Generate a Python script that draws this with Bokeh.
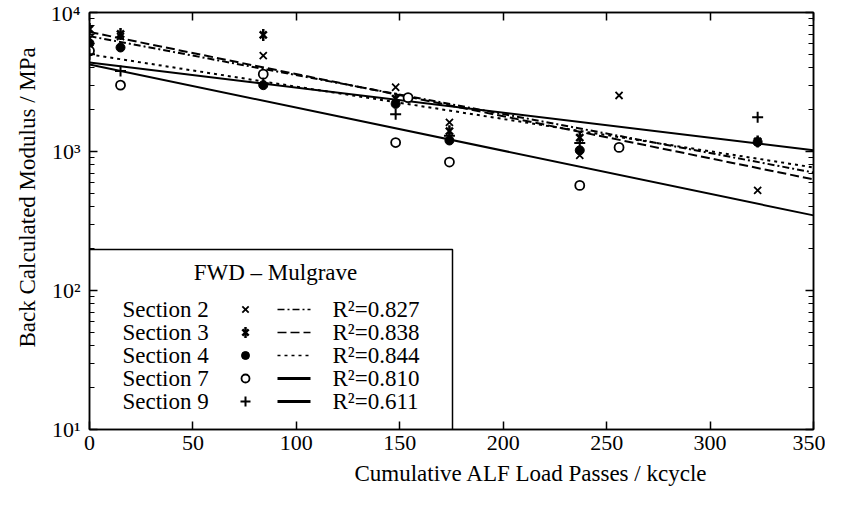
from bokeh.plotting import figure
from bokeh.models import LogAxis, LinearAxis, Title, CustomJSTickFormatter, FixedTicker, Range1d, LogTicker
from bokeh.core.properties import value
from bokeh.embed import file_html
from bokeh.resources import INLINE
import math

FONT = "Liberation Serif"

# ---------------- data ----------------
x_ticks = [0, 50, 100, 150, 200, 250, 300, 350]
y_ticks = [10, 100, 1000, 10000]

sections = ["Section 2", "Section 3", "Section 4", "Section 7", "Section 9"]
r2_values = ["0.827", "0.838", "0.844", "0.810", "0.611"]
legend_title = "FWD \u2013 Mulgrave"

s2_x = [0, 15, 84, 148, 174, 237, 256, 323]
s2_y = [6500, 6700, 4900, 2900, 1620, 940, 2530, 525]

s3_x = [0, 15, 84, 148, 174, 237, 323]
s3_y = [7600, 7000, 6900, 2400, 1400, 1260, 1180]

s4_x = [0, 15, 84, 148, 174, 237, 323]
s4_y = [6000, 5600, 3000, 2200, 1200, 1020, 1170]

s7_x = [0, 15, 84, 148, 154, 174, 237, 256]
s7_y = [5300, 3000, 3600, 1160, 2440, 840, 570, 1070]

s9_x = [0, 15, 84, 148, 174, 237, 323]
s9_y = [5000, 3800, 3100, 1850, 1300, 1150, 1760]

# regression lines (exponential fits, straight on log axis): value at x=0 and x=350
fit_x = [0, 350]
fit_start = [6760, 7240, 5000, 4230, 4370]
fit_end = [706, 630, 768, 347, 1020]
fit_dash = ["7 3 2 3", "9 4", "3 4", "solid", "solid"]

# ---------------- figure ----------------
FW, FH = 724, 417
p = figure(frame_width=FW, frame_height=FH,
           x_range=Range1d(0, 350), y_range=Range1d(10, 10000),
           y_axis_type="log", output_backend="svg", toolbar_location=None,
           min_border_left=89, min_border_top=12, min_border_right=12,
           min_border_bottom=8, background_fill_color="white",
           border_fill_color="white")
p.xgrid.visible = False
p.ygrid.visible = False
p.outline_line_color = "black"
p.outline_line_width = 1.5

bottom = p.xaxis[0]
left = p.yaxis[0]
bottom.ticker = FixedTicker(ticks=x_ticks)
left.ticker = LogTicker(num_minor_ticks=10)
left.formatter = CustomJSTickFormatter(code="""
const sup = {1:'\u00b9', 2:'\u00b2', 3:'\u00b3', 4:'\u2074'};
return '10' + sup[Math.round(Math.log10(tick))];
""")

top = LinearAxis(ticker=FixedTicker(ticks=x_ticks))
right = LogAxis(ticker=LogTicker(num_minor_ticks=10))
p.add_layout(top, "above")
p.add_layout(right, "right")

for ax in [bottom, left, top, right]:
    ax.axis_line_color = "black"
    ax.axis_line_width = 1.5
    ax.major_tick_line_color = "black"
    ax.major_tick_line_width = 1.5
    ax.minor_tick_line_color = "black"
    ax.minor_tick_line_width = 1.2
    ax.major_tick_in = 8
    ax.major_tick_out = 0
    ax.minor_tick_in = 5
    ax.minor_tick_out = 0
    ax.major_label_text_font = FONT
    ax.major_label_text_font_size = "22px"
    ax.major_label_text_color = "black"
for ax in [top, right]:
    ax.formatter = CustomJSTickFormatter(code="return ''")
    ax.major_label_standoff = 0
bottom.minor_tick_line_color = None
top.minor_tick_line_color = None
bottom.major_label_standoff = 6
left.major_label_standoff = 9

p.add_layout(Title(text="Cumulative ALF Load Passes / kcycle", align="left", offset=265,
                   text_font=FONT, text_font_size="23px", text_font_style="normal",
                   text_color="black", standoff=12), "below")
p.add_layout(Title(text="Back Calculated Modulus / MPa", align="left", offset=82,
                   text_font=FONT, text_font_size="23px", text_font_style="normal",
                   text_color="black", standoff=16), "left")

# fits
for s, e, d in zip(fit_start, fit_end, fit_dash):
    p.line(fit_x, [s, e], line_color="black", line_width=2, line_dash=d)

# points
p.scatter(s2_x, s2_y, marker="x", size=10, line_color="black", line_width=1.8)
p.scatter(s3_x, s3_y, marker="x", size=10, line_color="black", line_width=2.5)
p.scatter(s3_x, s3_y, marker="dash", angle=math.pi / 2, size=12, line_color="black", line_width=2.5)
p.scatter(s4_x, s4_y, marker="circle", size=9, line_color="black", fill_color="black")
p.scatter(s7_x, s7_y, marker="circle", size=9, line_color="black", fill_color="white", line_width=1.8)
p.scatter(s9_x, s9_y, marker="cross", size=11, line_color="black", line_width=2)

# ---------------- legend (layout positions in frame pixels) ----------------
def dx(px):
    return (px - 97) * 350.0 / FW

def dy(py):
    return 10 ** (4 - (py - 20) * 3.0 / FH)

p.quad(left=[dx(97)], right=[dx(460)], bottom=[10], top=[dy(257)],
       fill_color="white", line_color="black", line_width=1.5)
p.text(x=[dx(283)], y=[dy(280)], text=[legend_title], text_font=value(FONT),
       text_font_size="23px", text_align="center", text_baseline="middle", text_color="black")

rows_py = [317, 340, 363, 386, 409]
rows_y = [dy(r) for r in rows_py]
p.text(x=[dx(130)] * 5, y=rows_y, text=sections, text_font=value(FONT),
       text_font_size="23px", text_align="left", text_baseline="middle", text_color="black")
p.text(x=[dx(340)] * 5, y=rows_y, text=["R\u00b2=" + r for r in r2_values], text_font=value(FONT),
       text_font_size="23px", text_align="left", text_baseline="middle", text_color="black")

mx = dx(253)
p.scatter([mx], [rows_y[0]], marker="x", size=9, line_color="black", line_width=1.8)
p.scatter([mx], [rows_y[1]], marker="x", size=9, line_color="black", line_width=2.5)
p.scatter([mx], [rows_y[1]], marker="dash", angle=math.pi / 2, size=11, line_color="black", line_width=2.5)
p.scatter([mx], [rows_y[2]], marker="circle", size=8, line_color="black", fill_color="black")
p.scatter([mx], [rows_y[3]], marker="circle", size=8, line_color="black", fill_color="white", line_width=1.8)
p.scatter([mx], [rows_y[4]], marker="cross", size=10, line_color="black", line_width=2)

for yv, d in zip(rows_y, fit_dash):
    lw = 3 if d == "solid" else 1.6
    p.line([dx(285), dx(318)], [yv, yv], line_color="black", line_width=lw, line_dash=d)

open("out.html", "w").write(file_html(p, INLINE))
